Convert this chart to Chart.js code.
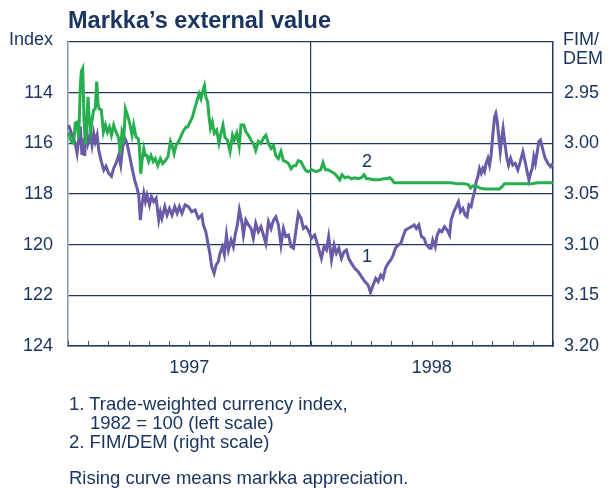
<!DOCTYPE html>
<html><head><meta charset="utf-8">
<script src="https://cdn.jsdelivr.net/npm/chart.js@4/dist/chart.umd.min.js"></script>
<style>
html,body{margin:0;padding:0;background:#fff}
#wrap{position:relative;width:612px;height:488px;background:#fff;font-family:"Liberation Sans",Arial,sans-serif;color:#1b3560}
#wrap div.t{position:absolute;white-space:nowrap}
canvas{position:absolute;left:0;top:0}
</style></head><body>
<div id="wrap">
<canvas id="c" width="612" height="488"></canvas>
<div class="t" style="left:68px;top:8px;font-size:23.5px;font-weight:bold;line-height:24px">Markka’s external value</div>
<div class="t" style="left:9px;top:29.5px;font-size:18px;line-height:18px">Index</div>
<div class="t" style="left:563px;top:29.5px;font-size:18px;line-height:19px">FIM/<br>DEM</div>
<div class="t" style="left:69px;top:395px;font-size:18.5px;line-height:18.8px">1. Trade-weighted currency index,<br><span style="padding-left:21px">1982 = 100 (left scale)</span><br>2. FIM/DEM (right scale)</div>
<div class="t" style="left:69px;top:467.5px;font-size:18.5px;line-height:19px">Rising curve means markka appreciation.</div>
</div>
<script>
// Months since start of 1997 (0..24)
const months1 = [0.03,0.20,0.36,0.45,0.53,0.61,0.69,0.78,0.83,0.89,0.99,1.11,1.19,1.27,1.35,1.44,1.52,1.65,1.77,1.88,2.01,2.15,2.26,2.38,2.51,2.61,2.71,2.81,2.92,3.04,3.17,3.30,3.42,3.50,3.58,3.66,3.75,3.83,3.91,4.03,4.13,4.24,4.36,4.49,4.57,4.65,4.79,4.90,5.02,5.15,5.28,5.40,5.51,5.64,
5.79,5.96,6.12,6.29,6.45,6.62,6.70,6.82,6.91,7.03,7.11,7.23,7.33,7.44,7.52,7.64,7.74,7.84,7.94,8.07,8.18,8.27,8.38,8.48,8.60,8.68,8.80,8.93,9.06,9.17,9.29,9.42,9.55,9.67,9.79,9.92,10.05,10.17,10.28,10.41,10.54,10.66,10.78,10.91,11.04,11.16,11.27,11.40,11.53,11.65,11.77,
11.88,12.05,12.21,12.38,12.54,12.67,12.79,12.90,13.04,13.17,13.28,13.40,13.53,13.66,13.78,13.89,14.03,14.19,14.36,14.52,14.69,14.85,14.97,15.10,15.23,15.35,15.48,15.59,15.71,15.84,15.97,16.09,16.20,16.34,16.47,16.58,16.70,16.83,17.00,17.13,17.24,17.36,17.49,17.62,17.74,17.90,
17.97,18.05,18.17,18.27,18.38,18.50,18.63,18.76,18.88,18.96,19.09,19.21,19.32,19.42,19.54,19.65,19.75,19.84,19.95,20.03,20.12,20.20,20.28,20.36,20.45,20.53,20.61,20.69,20.78,20.86,20.94,21.02,21.11,21.17,21.24,21.32,21.39,21.47,21.53,21.63,21.72,21.80,21.90,22.01,22.13,22.26,22.38,22.51,22.62,22.72,22.81,22.89,22.97,23.05,23.13,23.22,23.30,23.38,23.50,23.61,23.75,23.88,23.99];
// Series 1: trade-weighted currency index (left scale)
const index1 = [115.28,115.67,116.0,116.4,115.87,115.34,116.46,115.8,116.5,115.14,116.0,115.67,116.07,115.6,115.93,115.67,116.26,116.72,117.05,116.9,117.18,117.3,116.98,116.78,116.46,116.86,116.13,115.8,116.0,116.46,116.98,117.45,117.78,118.04,119.03,118.43,117.97,118.3,118.04,118.43,118.1,118.3,118.17,119.03,118.7,118.96,118.5,118.83,118.57,118.83,118.5,118.76,118.5,118.76,
118.43,118.5,118.7,118.63,118.96,118.83,119.22,119.49,119.88,120.4,120.87,121.13,120.8,120.67,120.34,120.08,120.4,119.62,120.21,119.82,120.08,119.62,119.22,118.63,119.09,119.62,119.03,119.22,119.36,119.75,119.16,119.49,119.29,119.62,119.95,119.09,119.36,119.03,118.9,119.22,120.01,119.36,119.68,119.62,120.08,120.14,119.49,118.76,118.96,119.36,119.29,
119.42,119.75,119.62,120.08,120.54,120.08,120.21,119.68,120.6,120.01,120.34,120.14,120.54,120.28,120.21,120.54,120.74,120.93,121.07,121.26,121.46,121.59,121.88,121.59,121.33,121.46,121.2,121.33,120.93,120.74,120.6,120.41,120.14,120.01,119.95,119.68,119.42,119.36,119.29,119.22,119.36,119.22,119.68,119.75,120.01,120.14,
120.14,119.82,120.08,119.62,119.42,119.49,119.29,119.42,119.62,119.03,118.7,118.5,118.3,118.7,118.57,118.83,118.9,118.43,118.5,118.17,117.91,117.51,117.32,116.99,117.18,116.99,117.12,116.79,116.59,116.86,116.46,115.67,114.95,114.82,115.14,115.8,116.33,115.74,115.41,116.07,116.59,116.86,116.59,116.86,116.79,117.05,116.72,116.33,116.72,117.12,117.45,117.18,116.99,116.53,116.79,116.33,115.93,115.87,116.26,116.59,116.79,116.92,116.79];

const months2 = [0.03,0.16,0.28,0.36,0.45,0.53,0.61,0.66,0.73,0.79,0.86,0.92,0.99,1.06,1.12,1.19,1.27,1.35,1.42,1.49,1.55,1.65,1.75,1.85,1.95,2.05,2.15,2.26,2.38,2.51,2.59,2.67,2.76,2.84,2.94,3.04,3.17,3.25,3.37,3.47,3.53,3.60,3.66,3.75,3.83,3.91,3.99,4.11,4.22,4.32,4.44,4.57,4.69,4.82,4.95,5.07,5.15,5.25,5.35,5.48,5.61,5.73,5.84,
5.92,6.04,6.16,6.25,6.37,6.49,6.58,6.70,6.75,6.82,6.91,6.98,7.05,7.14,7.24,7.36,7.47,7.57,7.67,7.77,7.89,8.02,8.14,8.23,8.35,8.47,8.56,8.70,8.81,8.93,9.06,9.17,9.29,9.42,9.55,9.67,9.79,9.92,10.05,10.17,10.28,10.41,10.54,10.66,10.78,10.91,11.04,11.16,11.27,11.40,11.53,11.65,11.77,
11.88,12.05,12.29,12.51,12.62,12.74,12.87,13.04,13.20,13.33,13.45,13.56,13.70,13.86,14.03,14.19,14.36,14.52,14.65,14.77,14.93,15.10,15.26,15.43,15.59,15.76,15.92,16.04,16.14,16.34,16.58,16.83,17.08,17.33,17.57,17.82,
17.97,18.30,18.63,18.96,19.29,19.62,19.82,19.92,20.03,20.20,20.36,20.61,20.86,21.11,21.35,21.47,21.60,21.85,22.18,22.59,22.92,23.25,23.66,23.99];
// Series 2: FIM/DEM (right scale)
const fimDem2 = [2.989,2.998,3.000,2.980,2.979,2.995,2.943,2.929,2.926,2.975,3.002,2.982,2.954,2.979,2.989,2.977,2.967,2.966,2.939,2.962,2.966,2.967,2.989,2.982,2.989,2.984,2.992,2.982,2.989,2.995,3.010,2.989,2.995,2.966,2.972,2.979,2.992,2.982,2.994,2.995,3.002,3.030,3.018,3.005,3.012,3.012,3.018,3.012,3.018,3.015,3.022,3.015,3.020,3.017,3.013,2.998,3.002,3.010,3.002,2.998,2.992,2.987,2.984,
2.984,2.979,2.974,2.967,2.959,2.951,2.956,2.946,2.943,2.954,2.959,2.974,2.985,2.979,2.990,2.987,3.000,2.990,2.982,2.994,2.997,3.008,2.992,2.997,2.990,3.003,2.982,2.982,2.989,2.992,2.997,3.000,3.007,2.998,3.000,2.995,2.992,3.000,3.005,3.002,3.012,3.015,3.008,3.017,3.018,3.020,3.025,3.022,3.022,3.017,3.018,3.023,3.027,
3.028,3.026,3.028,3.026,3.019,3.026,3.026,3.028,3.030,3.033,3.036,3.031,3.034,3.033,3.035,3.034,3.035,3.034,3.031,3.035,3.035,3.036,3.036,3.036,3.035,3.035,3.034,3.036,3.039,3.039,3.039,3.039,3.039,3.039,3.039,3.039,
3.039,3.039,3.039,3.039,3.040,3.040,3.041,3.044,3.042,3.042,3.044,3.045,3.045,3.045,3.045,3.043,3.040,3.040,3.040,3.040,3.040,3.039,3.039,3.039];

const monthTicks = [0,1,2,3,4,5,6,7,8,9,10,11,12,13,14,15,16,17,18,19,20,21,22,23,24];
const yearLabels = {6:'1997', 18:'1998'};
const yearBoundary = 12;
const leftTicks = [114,116,118,120,122,124];
const rightTicks = ['2.95','3.00','3.05','3.10','3.15','3.20'];
const curveLabels = [{text:'1', x:14.8, y:120.5, axis:'y'},{text:'2', x:14.8, y:3.018, axis:'y2'}];

const NAVY = '#1f3a5f';
const TXT = '#1b3560';
const FONT = {family:'"Liberation Sans", Arial, sans-serif', size:18};

const extras = {
  id:'extras',
  afterDatasetsDraw(chart){
    const ctx = chart.ctx, xs = chart.scales.x, a = chart.chartArea;
    ctx.save();
    ctx.strokeStyle = '#3d5578'; ctx.lineWidth = 1;
    monthTicks.forEach(m=>{
      const px = Math.round(xs.getPixelForValue(m))+0.5;
      ctx.beginPath(); ctx.moveTo(px, a.bottom); ctx.lineTo(px, a.bottom-5); ctx.stroke();
    });
    ctx.fillStyle = TXT; ctx.font = '18px "Liberation Sans", Arial, sans-serif';
    ctx.textAlign='center'; ctx.textBaseline='middle';
    curveLabels.forEach(l=>{
      ctx.fillText(l.text, xs.getPixelForValue(l.x), chart.scales[l.axis].getPixelForValue(l.y));
    });
    ctx.restore();
  }
};

new Chart(document.getElementById('c'), {
  type:'line',
  data:{datasets:[
    {label:'FIM/DEM', yAxisID:'y2', data: months2.map((m,i)=>({x:m,y:fimDem2[i]})),
     borderColor:'#27ae4f', borderWidth:3, pointRadius:0, tension:0, fill:false},
    {label:'Trade-weighted currency index', yAxisID:'y', data: months1.map((m,i)=>({x:m,y:index1[i]})),
     borderColor:'#6a5aa8', borderWidth:3, pointRadius:0, tension:0, fill:false}
  ]},
  options:{
    responsive:false, animation:false, events:[],
    layout:{padding:{left:0,right:0,top:42,bottom:0}},
    plugins:{legend:{display:false}, tooltip:{enabled:false}},
    scales:{
      x:{type:'linear', min:0, max:24,
        afterBuildTicks: s=>{ s.ticks = monthTicks.map(v=>({value:v})); },
        afterFit: s=>{ s.height = 142; },
        ticks:{autoSkip:false, maxRotation:0, padding:11, color:TXT, font:FONT,
          callback: v=> yearLabels[v] || ''},
        grid:{drawTicks:false, lineWidth:1.2,
          color: c=> (c.tick && c.tick.value===yearBoundary) ? NAVY : 'rgba(0,0,0,0)'},
        border:{display:true, color:NAVY, width:1.5}
      },
      y:{position:'left', min:112, max:124, reverse:true,
        afterBuildTicks: s=>{ s.ticks = [112].concat(leftTicks).map(v=>({value:v})); },
        afterFit: s=>{ s.width = 68; },
        ticks:{padding:15, color:TXT, font:FONT, callback: v=> leftTicks.includes(v) ? String(v) : ''},
        grid:{drawTicks:false, color:NAVY, lineWidth:1.2},
        border:{display:true, color:'#8497b0', width:1.5}
      },
      y2:{position:'right', min:2.90, max:3.20, reverse:true,
        afterBuildTicks: s=>{ s.ticks = [2.90,2.95,3.00,3.05,3.10,3.15,3.20].map(v=>({value:v})); },
        afterFit: s=>{ s.width = 59; },
        ticks:{padding:11, color:TXT, font:FONT, callback: (v,i)=> i===0 ? '' : rightTicks[i-1]},
        grid:{display:false, drawTicks:false},
        border:{display:true, color:NAVY, width:1.5}
      }
    }
  },
  plugins:[extras]
});
</script>
</body></html>
